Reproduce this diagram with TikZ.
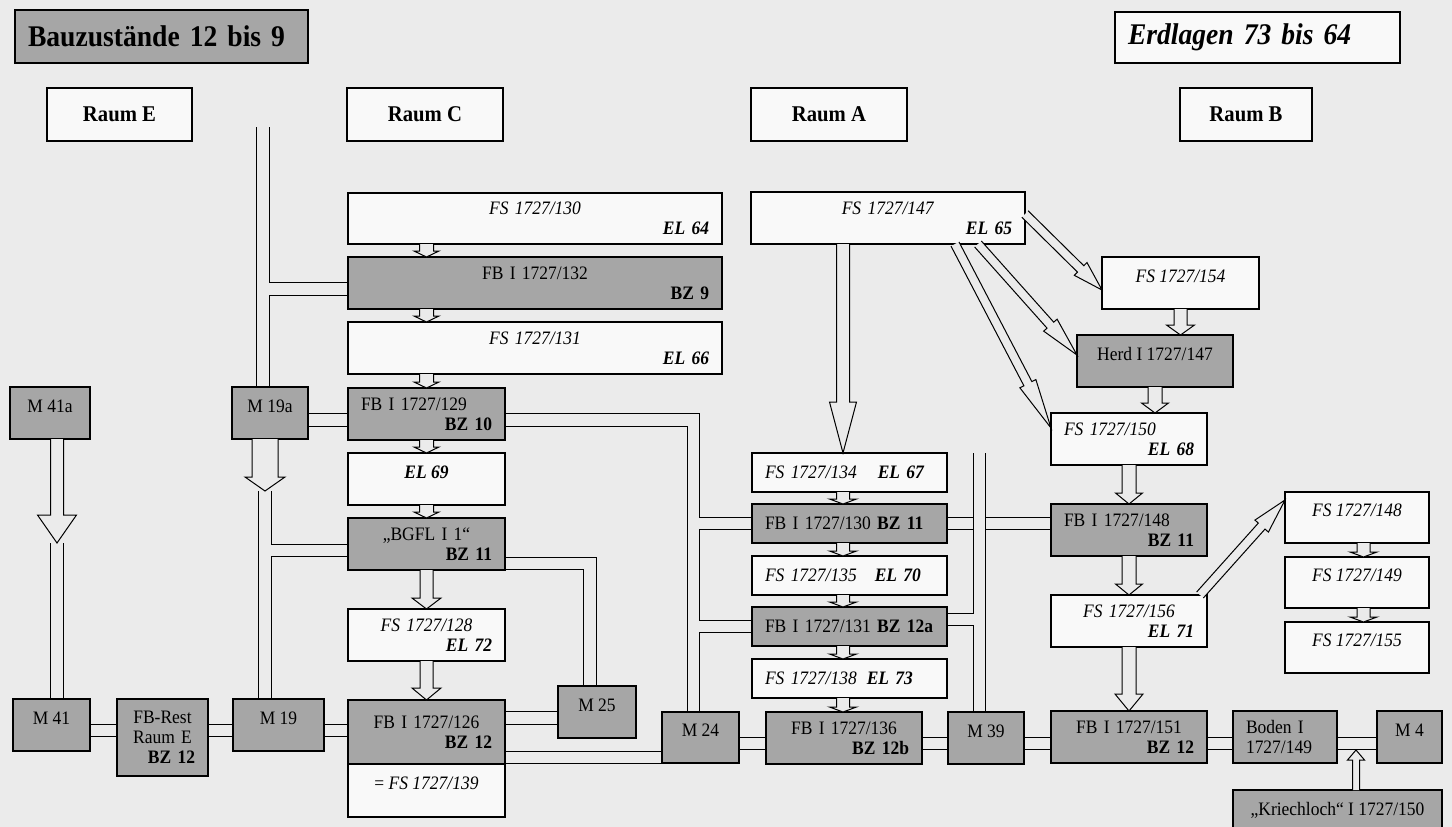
\documentclass[tikz,border=0pt]{standalone}
\usepackage{fontspec}
\setmainfont{Liberation Serif}[FakeStretch=0.92]
\usetikzlibrary{positioning,calc,backgrounds}
\definecolor{pagebg}{RGB}{235,235,235}
\definecolor{boxgray}{RGB}{166,166,166}
\definecolor{boxwhite}{RGB}{249,249,249}
\setlength{\parindent}{0pt}
\newcommand\boxfont{\fontsize{19}{20}\selectfont}
\newcommand\ctr[1]{\hspace*{\fill}#1\hspace*{\fill}\null}
\newcommand\rgt[1]{\hspace*{\fill}#1}
\newcommand\elab[1]{\textbf{\textit{#1}}}
% hollow block arrow: start, tip, stem half width, head half width, head length
\newcommand\harrow[5]{%
  \coordinate (ha-s) at (#1);
  \coordinate (ha-t) at (#2);
  \coordinate (ha-h) at ($(ha-t)!#5pt!(ha-s)$);
  \filldraw[hollow] ($(ha-s)!#3pt!90:(ha-t)$) -- ($(ha-h)!#3pt!90:(ha-t)$)
    -- ($(ha-h)!#4pt!90:(ha-t)$) -- (ha-t) -- ($(ha-h)!#4pt!-90:(ha-t)$)
    -- ($(ha-h)!#3pt!-90:(ha-t)$) -- ($(ha-s)!#3pt!-90:(ha-t)$);
}

\begin{document}
\begin{tikzpicture}[
    x=1pt, y=-1pt,
    wbox/.style={rectangle, draw=black, fill=boxwhite, line width=1.2pt, outer sep=0pt, inner xsep=13pt, inner ysep=0pt, align=left, minimum height=52pt, anchor=north west, font=\boxfont},
    gbox/.style={wbox, fill=boxgray},
    bw/.code={\pgfmathsetmacro\boxtw{#1-26}\tikzset{minimum width=#1pt, text width/.expanded=\boxtw pt}},
    mw/.style={minimum width=#1pt, align=center},
    hd/.style={minimum height=#1pt},
    oneline/.style={text height=12pt, text depth=14pt},
    raumbox/.style={wbox, align=center, minimum height=53pt, font=\fontsize{22.5}{24}\selectfont\bfseries},
    titlebox/.style={gbox, minimum height=53pt, font=\fontsize{30}{32}\selectfont\bfseries},
    hollow/.style={draw=black, fill=pagebg, line width=1pt, line join=miter}
]
\useasboundingbox (0,0) rectangle (1452,827);

% Headings
\node[titlebox, bw=293] (titlebz) at (15,10) {Bauzustände 12 bis 9};
\node[titlebox, fill=boxwhite, bw=285, hd=51, font=\fontsize{30}{32}\selectfont\bfseries\itshape] (titleel) at (1115,12) {Erdlagen 73 bis 64};
\node[raumbox, mw=145] (raumE) at (47,88) {Raum E};
\node[raumbox, mw=156] (raumC) at (347,88) {Raum C};
\node[raumbox, mw=156] (raumA) at (751,88) {Raum A};
\node[raumbox, mw=132] (raumB) at (1180,88) {Raum B};

% Raum C
\node[wbox, bw=374, hd=51] (fs130) at (348,193) {\ctr{\textit{FS 1727/130}}\\\rgt{\elab{EL 64}}};
\node[gbox, bw=374, below=13pt of fs130] (fb132) {\ctr{FB I 1727/132}\\\rgt{\textbf{BZ 9}}};
\node[wbox, bw=374, below=13pt of fb132] (fs131) {\ctr{\textit{FS 1727/131}}\\\rgt{\elab{EL 66}}};
\node[gbox, bw=157, below=14pt of fs131.south west, anchor=north west] (fb129) {FB I 1727/129\\\rgt{\textbf{BZ 10}}};
\node[wbox, mw=157, oneline, below=13pt of fb129] (el69) {\elab{EL 69}};
\node[gbox, bw=157, below=13pt of el69] (bgfl) {\ctr{„BGFL I 1“}\\\rgt{\textbf{BZ 11}}};
\node[wbox, bw=157, below=39pt of bgfl] (fs128) {\ctr{\textit{FS 1727/128}}\\\rgt{\elab{EL 72}}};
\node[gbox, bw=157, hd=64, below=39pt of fs128] (fb126) {\ctr{FB I 1727/126}\\\rgt{\textbf{BZ 12}}};
\node[wbox, mw=157, hd=53, oneline, below=0pt of fb126] (fs139) {= \textit{FS 1727/139}};

% Raum A
\node[wbox, bw=274] (fs147) at (751,192) {\ctr{\textit{FS 1727/147}}\\\rgt{\elab{EL 65}}};
\node[wbox, bw=195, hd=39] (fs134) at (752,453) {\textit{FS 1727/134}\hspace{21pt}\elab{EL 67}};
\node[gbox, bw=195, hd=39, below=12pt of fs134] (fb130) {FB I 1727/130 \textbf{BZ 11}};
\node[wbox, bw=195, hd=39, below=13pt of fb130] (fs135) {\textit{FS 1727/135}\hspace{18pt}\elab{EL 70}};
\node[gbox, bw=195, hd=39, below=12pt of fs135] (fb131) {FB I 1727/131 \textbf{BZ 12a}};
\node[wbox, bw=195, hd=39, below=13pt of fb131] (fs138) {\textit{FS 1727/138}\hspace{10pt}\elab{EL 73}};
\node[gbox, bw=156] (fb136) at (766,712) {\ctr{FB I 1727/136}\\\rgt{\textbf{BZ 12b}}};

% Raum B
\node[wbox, mw=157, oneline] (fs154) at (1102,257) {\textit{FS 1727/154}};
\node[gbox, mw=156, oneline] (herd) at (1077,335) {Herd I 1727/147};
\node[wbox, bw=156] (fs150) at (1051,413) {\textit{FS 1727/150}\\\rgt{\elab{EL 68}}};
\node[gbox, bw=156, below=39pt of fs150] (fb148) {FB I 1727/148\\\rgt{\textbf{BZ 11}}};
\node[wbox, bw=156, below=39pt of fb148] (fs156) {\ctr{\textit{FS 1727/156}}\\\rgt{\elab{EL 71}}};
\node[gbox, bw=156, below=64pt of fs156] (fb151) {\ctr{FB I 1727/151}\\\rgt{\textbf{BZ 12}}};
\node[gbox, bw=104, right=26pt of fb151.north east, anchor=north west] (boden) {Boden I\\1727/149};
\node[gbox, mw=65, oneline, right=40pt of boden.north east, anchor=north west] (m4) {M 4};
\node[gbox, mw=209, oneline] (kriech) at (1233,790) {„Kriechloch“ I 1727/150};
\node[wbox, mw=144, hd=51, oneline] (fs148) at (1285,492) {\textit{FS 1727/148}};
\node[wbox, mw=144, hd=51, oneline, below=14pt of fs148] (fs149) {\textit{FS 1727/149}};
\node[wbox, mw=144, hd=51, oneline, below=14pt of fs149] (fs155) {\textit{FS 1727/155}};

% Mauern
\node[gbox, mw=80, oneline] (m41a) at (10,387) {M 41a};
\node[gbox, mw=76, oneline] (m19a) at (232,387) {M 19a};
\node[gbox, mw=77, oneline] (m41) at (13,699) {M 41};
\node[gbox, bw=91, hd=77] (fbrest) at (117,699) {\ctr{FB-Rest}\\\ctr{Raum E}\\\rgt{\textbf{BZ 12}}};
\node[gbox, mw=91, oneline] (m19) at (233,699) {M 19};
\node[gbox, mw=78, oneline] (m25) at (558,686) {M 25};
\node[gbox, mw=77, hd=51, oneline] (m24) at (662,712) {M 24};
\node[gbox, mw=76, oneline] (m39) at (948,712) {M 39};

% Wall lanes
\coordinate (walltop) at (263,127);
\coordinate (m41tip) at ($(m41a.south)+(7,104)$);
\coordinate (m19tip) at ($(m19a.south)+(-5,52)$);
\coordinate (l132) at ($(fb132.west)+(0,6)$);
\coordinate (l129) at ($(fb129.west)+(0,6)$);
\coordinate (l129e) at ($(fb129.east)+(0,6)$);
\coordinate (c24) at ($(m24.north)+(-7,0)$);
\coordinate (lgfl) at ($(bgfl.south east)+(0,-6.5)$);
\coordinate (c25) at ($(m25.north)+(-7,0)$);
\coordinate (lbg) at ($(bgfl.west)+(0,6.5)$);
\coordinate (lch) at ($(m41.east)+(0,5.5)$);
\coordinate (l25) at ($(m25.west)+(0,6)$);
\coordinate (l24) at ($(fb126.south east)+(0,-6.5)$);
\coordinate (lcr) at ($(m24.east)+(0,6)$);
\coordinate (c39) at ($(m39.north)+(-6.5,0)$);
\coordinate (l131) at ($(fb131.east)+(0,-7)$);
\coordinate (ktip) at ($(lcr -| kriech.north)+(18.5,6.5)$);

\begin{scope}[on background layer]
\fill[pagebg] (0,0) rectangle (1452,827);
\foreach \wlw/\wcol in {13.6pt/black, 11.4pt/pagebg} {
  \draw[line width=\wlw, draw=\wcol] (fb130.east) -- (fb130.east -| fb148.west);
}
\foreach \wlw/\wcol in {13.6pt/black, 11.4pt/pagebg} {
  \draw[line width=\wlw, draw=\wcol] (walltop) -- (walltop |- m19a.north);
  \draw[line width=\wlw, draw=\wcol] (walltop |- l132) -- (l132);
  \draw[line width=\wlw, draw=\wcol] (m19a.east |- l129) -- (l129);
  \draw[line width=\wlw, draw=\wcol] (l129e) -| (c24);
  \draw[line width=\wlw, draw=\wcol] (c24 |- fb130.west) -- (fb130.west);
  \draw[line width=\wlw, draw=\wcol] (c24 |- fb131.west) -- (fb131.west);
  \draw[line width=\wlw, draw=\wcol] (lgfl) -| (c25);
  \draw[line width=\wlw, draw=\wcol] (m19tip) -- (m19tip |- m19.north);
  \draw[line width=\wlw, draw=\wcol] (m19tip |- lbg) -- (lbg);
  \draw[line width=\wlw, draw=\wcol] (m41tip) -- (m41tip |- m41.north);
  \draw[line width=\wlw, draw=\wcol] (lch) -- (lch -| fb126.west);
  \draw[line width=\wlw, draw=\wcol] (l25 -| fb126.east) -- (l25);
  \draw[line width=\wlw, draw=\wcol] (l24) -- (l24 -| m24.west);
  \draw[line width=\wlw, draw=\wcol] (lcr) -- (lcr -| m4.west);
  \draw[line width=\wlw, draw=\wcol] (c39 |- fs134.north) -- (c39);
  \draw[line width=\wlw, draw=\wcol] (l131) -- (l131 -| c39);
}
\end{scope}

% Arrows Raum C
\foreach \a/\b in {fs130/fb132, fb132/fs131, fs131/fb129, fb129/el69, el69/bgfl} {
  \harrow{\a.south -| fb129.north}{\b.north -| fb129.north}{7}{12.5}{6}
}
\harrow{bgfl.south}{fs128.north}{6.5}{14.5}{11}
\harrow{fs128.south}{fb126.north}{6.5}{14.5}{12}

% Arrows Raum A
\coordinate (colA) at ($(fs134.north)+(-6.5,0)$);
\harrow{colA |- fs147.south}{colA}{6.5}{13.5}{51}
\foreach \a/\b in {fs134/fb130, fb130/fs135, fs135/fb131, fb131/fs138, fs138/fb136} {
  \harrow{colA |- \a.south}{colA |- \b.north}{6.5}{13.5}{5}
}
\harrow{$(fs147.east)+(0,-4)$}{$(fs154.west)+(0,7)$}{4.5}{9}{30}
\harrow{$(fs147.south east)+(-47,0)$}{$(herd.west)+(0,-6)$}{4.5}{9}{40}
\harrow{$(fs147.south east)+(-70,0)$}{$(fs150.west)+(0,-11)$}{4.5}{9}{50}

% Arrows Raum B
\harrow{fs154.south}{herd.north -| fs154.south}{6.5}{14}{10}
\harrow{herd.south}{fs150.north -| herd.south}{7}{13.5}{10}
\harrow{fs150.south}{fb148.north}{7}{13.5}{11}
\harrow{fb148.south}{fs156.north}{7}{13.5}{11}
\harrow{fs156.south}{fb151.north}{7}{14}{17}
\harrow{$(fs156.north east)+(-7,0)$}{$(fs148.west)+(0,-17.5)$}{4.5}{9}{35}
\harrow{$(fs148.south)+(6.5,0)$}{$(fs149.north)+(6.5,0)$}{6.5}{13.5}{5}
\harrow{$(fs149.south)+(6.5,0)$}{$(fs155.north)+(6.5,0)$}{6.5}{13.5}{5}

% Arrows on walls
\harrow{m41tip |- m41a.south}{m41tip}{6.5}{19.5}{28}
\harrow{m19tip |- m19a.south}{m19tip}{13}{20}{14}
\harrow{ktip |- kriech.north}{ktip}{3.5}{8.5}{10}

\end{tikzpicture}
\end{document}
